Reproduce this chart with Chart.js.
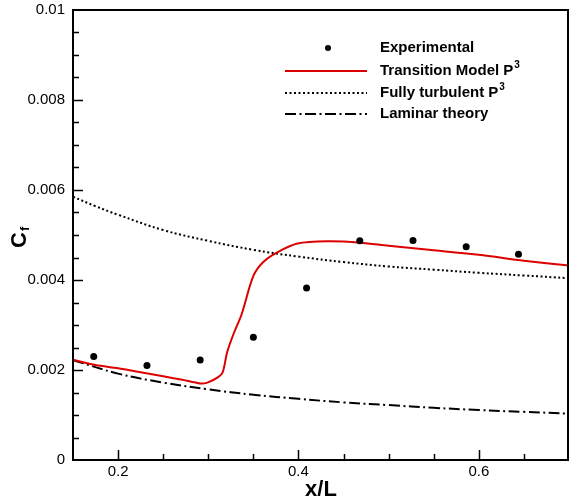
<!DOCTYPE html>
<html lang="en">
<head>
  <meta charset="UTF-8" />
  <title>Skin friction — Cf vs x/L</title>
  <script src="https://cdn.jsdelivr.net/npm/chart.js"></script>
  <style>
    html, body { margin: 0; padding: 0; background: #fff; overflow: hidden; }
    canvas { display: block; }
  </style>
</head>
<body>
  <canvas id="cfChart" width="569" height="499"></canvas>

  <script>
    // data
    const expX = [0.173, 0.232, 0.291, 0.350, 0.409, 0.468, 0.527, 0.586, 0.644];
    const expCf = [0.00230, 0.00210, 0.00222, 0.00273, 0.00382, 0.00487, 0.00488, 0.00474, 0.00457];

    const transX = [0.15, 0.175, 0.2, 0.225, 0.25, 0.27, 0.291, 0.299, 0.311, 0.316, 0.321, 0.328, 0.337,
                    0.350, 0.361, 0.376, 0.399, 0.432, 0.469, 0.5, 0.55, 0.6, 0.65, 0.7];
    const transCf = [0.00223, 0.00211, 0.00204, 0.00195, 0.00186, 0.00179, 0.00170, 0.00172, 0.00184, 0.00195,
                     0.00240, 0.00280, 0.00324, 0.00409, 0.00440, 0.00461, 0.00481, 0.00486, 0.00483, 0.00476,
                     0.00466, 0.00456, 0.00443, 0.00432];

    const turbX = [0.15, 0.175, 0.2, 0.25, 0.3, 0.35, 0.4, 0.45, 0.5, 0.55, 0.6, 0.65, 0.7];
    const turbCf = [0.00585, 0.00564, 0.00545, 0.00511, 0.00487, 0.00467, 0.00452, 0.00440, 0.00430,
                    0.00423, 0.00416, 0.00410, 0.00404];

    const lamX = [0.15, 0.2, 0.25, 0.3, 0.35, 0.4, 0.45, 0.5, 0.55, 0.6, 0.65, 0.7];
    const lamCf = [0.00222, 0.00192, 0.00172, 0.00157, 0.00145, 0.00136, 0.00128, 0.00122, 0.00116,
                   0.00111, 0.00107, 0.00103];

    const xTicks = [0.2, 0.4, 0.6];
    const yTicks = [0, 0.002, 0.004, 0.006, 0.008, 0.01];

    const legendItems = [
      { text: 'Experimental', sup: '', kind: 'dot' },
      { text: 'Transition Model P', sup: '3', kind: 'red' },
      { text: 'Fully turbulent P', sup: '3', kind: 'dotted' },
      { text: 'Laminar theory', sup: '', kind: 'dashdot' }
    ];

    const pts = (xs, ys) => xs.map((x, i) => ({ x: x, y: ys[i] }));

    const RED = '#dd0000';
    const DOTTED = [2, 2.5];
    const DASHDOT = [11, 3.5, 2, 3.5];
    const FONT = '"Liberation Sans", Arial, sans-serif';

    // frame, inward ticks, axis titles and legend
    const decorations = {
      id: 'decorations',
      afterDraw(chart) {
        const ctx = chart.ctx;
        const a = chart.chartArea;
        const xs = chart.scales.x, ys = chart.scales.y;
        ctx.save();
        ctx.strokeStyle = '#000';

        // minor + major ticks, pointing inward
        ctx.lineWidth = 1.5;
        ctx.beginPath();
        for (let v = 0.2; v <= 0.6501; v += 0.05) {
          const px = Math.round(xs.getPixelForValue(v)) + 0.5;
          const major = xTicks.some(t => Math.abs(t - v) < 1e-6);
          ctx.moveTo(px, a.bottom);
          ctx.lineTo(px, a.bottom - (major ? 10 : 6));
        }
        for (let v = 0.0005; v <= 0.00951; v += 0.0005) {
          const py = Math.round(ys.getPixelForValue(v)) + 0.5;
          const major = yTicks.some(t => Math.abs(t - v) < 1e-7);
          ctx.moveTo(a.left, py);
          ctx.lineTo(a.left + (major ? 10 : 6), py);
        }
        ctx.stroke();

        // box
        ctx.lineWidth = 2;
        ctx.strokeRect(a.left, a.top, a.right - a.left - 1, a.bottom - a.top);

        // axis titles
        ctx.fillStyle = '#000';
        ctx.font = 'bold 22px ' + FONT;
        ctx.textAlign = 'center';
        ctx.textBaseline = 'alphabetic';
        ctx.fillText('x/L', (a.left + a.right) / 2, 496);

        ctx.save();
        ctx.translate(26, 248);
        ctx.rotate(-Math.PI / 2);
        ctx.textAlign = 'left';
        ctx.fillText('C', 0, 0);
        const cw = ctx.measureText('C').width;
        ctx.font = 'bold 13px ' + FONT;
        ctx.fillText('f', cw + 1, 3);
        ctx.restore();

        // legend
        const rowY = [48, 71, 93, 114];
        const x0 = 285, x1 = 367, tx = 380;
        legendItems.forEach((it, i) => {
          const y = rowY[i];
          ctx.beginPath();
          if (it.kind === 'dot') {
            ctx.arc(328, y, 3, 0, Math.PI * 2);
            ctx.fill();
          } else {
            ctx.lineWidth = 2;
            ctx.strokeStyle = it.kind === 'red' ? RED : '#000';
            ctx.setLineDash(it.kind === 'dotted' ? DOTTED : it.kind === 'dashdot' ? DASHDOT : []);
            ctx.moveTo(x0, y);
            ctx.lineTo(x1, y);
            ctx.stroke();
            ctx.setLineDash([]);
          }
          ctx.font = 'bold 15px ' + FONT;
          ctx.textAlign = 'left';
          ctx.textBaseline = 'middle';
          ctx.fillText(it.text, tx, y);
          if (it.sup) {
            const w = ctx.measureText(it.text).width;
            ctx.font = 'bold 10px ' + FONT;
            ctx.fillText(it.sup, tx + w + 1, y - 6);
          }
        });
        ctx.restore();
      }
    };

    new Chart(document.getElementById('cfChart'), {
      type: 'scatter',
      data: {
        datasets: [
          {
            label: 'Experimental',
            data: pts(expX, expCf),
            pointRadius: 3.5,
            pointBackgroundColor: '#000',
            pointBorderWidth: 0,
            showLine: false
          },
          {
            label: 'Transition Model P3',
            data: pts(transX, transCf),
            showLine: true,
            borderColor: RED,
            borderWidth: 2,
            pointRadius: 0,
            tension: 0.3
          },
          {
            label: 'Fully turbulent P3',
            data: pts(turbX, turbCf),
            showLine: true,
            borderColor: '#000',
            borderWidth: 2,
            borderDash: DOTTED,
            pointRadius: 0,
            tension: 0.4
          },
          {
            label: 'Laminar theory',
            data: pts(lamX, lamCf),
            showLine: true,
            borderColor: '#000',
            borderWidth: 2,
            borderDash: DASHDOT,
            pointRadius: 0,
            tension: 0.4
          }
        ]
      },
      options: {
        responsive: false,
        animation: false,
        layout: { autoPadding: false, padding: { top: 10, right: 0, left: 0, bottom: 0 } },
        plugins: { legend: { display: false }, tooltip: { enabled: false } },
        scales: {
          x: {
            type: 'linear',
            min: 0.15,
            max: 0.7,
            grid: { display: false, drawTicks: false },
            border: { display: false },
            afterBuildTicks: s => { s.ticks = xTicks.map(v => ({ value: v })); },
            afterFit: s => { s.height = 39; s.paddingLeft = 0; s.paddingRight = 0; },
            ticks: {
              padding: 3,
              color: '#000',
              font: { family: FONT, size: 15 },
              callback: v => String(v)
            }
          },
          y: {
            type: 'linear',
            min: 0,
            max: 0.01,
            grid: { display: false, drawTicks: false },
            border: { display: false },
            afterBuildTicks: s => { s.ticks = yTicks.map(v => ({ value: v })); },
            afterFit: s => { s.width = 73; s.paddingTop = 0; s.paddingBottom = 0; },
            ticks: {
              padding: 8,
              color: '#000',
              font: { family: FONT, size: 15 },
              callback: v => String(Number(v.toFixed(4)))
            }
          }
        }
      },
      plugins: [decorations]
    });
  </script>
</body>
</html>
